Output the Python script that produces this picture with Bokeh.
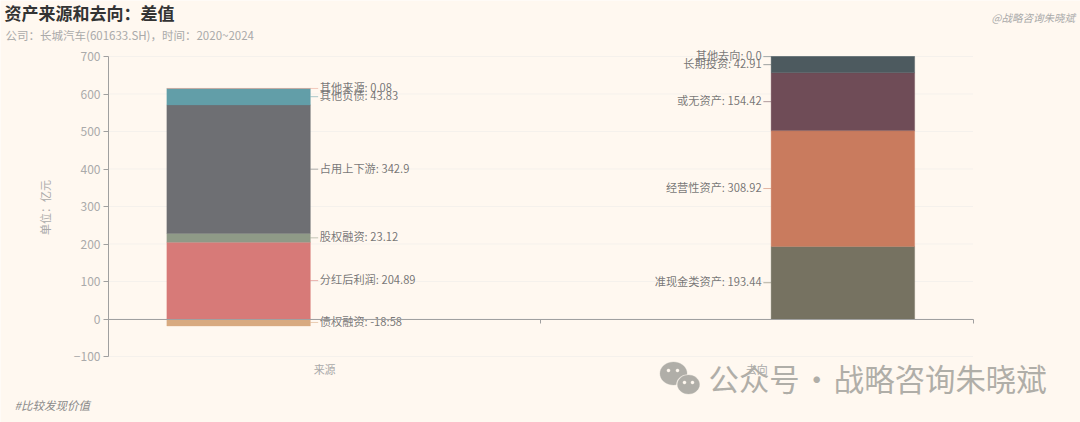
from bokeh.plotting import figure
from bokeh.models import (ColumnDataSource, Range1d, LinearAxis, FixedTicker, Label, PolyAnnotation)
from bokeh.core.properties import value
from bokeh.embed import file_html
from bokeh.resources import INLINE
import math

FONT = "Noto Sans CJK SC"
categories = ["来源", "去向"]

source_names = ["债权融资", "分红后利润", "股权融资", "占用上下游", "其他负债", "其他来源"]
source_values = [-18.58, 204.89, 23.12, 342.9, 43.83, 0.08]
source_labels = ["-18:58", "204.89", "23.12", "342.9", "43.83", "0.08"]
source_colors = ["#d8aa80", "#d77a78", "#8f9a87", "#6e6f73", "#629ea8", "#e8a090"]

use_names = ["准现金类资产", "经营性资产", "或无资产", "长期投资", "其他去向"]
use_values = [193.44, 308.92, 154.42, 42.91, 0.0]
use_labels = ["193.44", "308.92", "154.42", "42.91", "0.0"]
use_colors = ["#767261", "#c97b5e", "#6f4c57", "#4d5a5f", "#5a6a70"]

y_ticks = [-100, 0, 100, 200, 300, 400, 500, 600, 700]

W, H = 1080, 422
AX_L, AX_R, AX_T, AX_B = 108.0, 972.5, 56.0, 356.0
XK = 2 / (AX_R - AX_L)
YK = 800 / (AX_B - AX_T)


def stack(vals):
    bottoms, tops, pos = [], [], 0.0
    for v in vals:
        if v < 0:
            bottoms.append(v); tops.append(0.0)
        else:
            bottoms.append(pos); tops.append(pos + v); pos += v
    return bottoms, tops


p = figure(width=W, height=H, output_backend="svg", toolbar_location=None,
           x_range=Range1d(-AX_L * XK, 2 + (W - AX_R) * XK),
           y_range=Range1d(-100 - (H - AX_B) * YK, 700 + AX_T * YK),
           x_axis_location=None, y_axis_location=None,
           background_fill_color="#fff8f0", border_fill_color="#fff8f0",
           min_border=0, margin=(0, 0, 0, 0), outline_line_color=None)
p.grid.visible = False

# grid lines, limited to the plotting area
p.segment(x0=[0] * len(y_ticks), x1=[2] * len(y_ticks), y0=y_ticks, y1=y_ticks,
          line_color="#f5f1ec", line_width=1)

# axes
y_axis = LinearAxis(fixed_location=0, bounds=(-100, 700), ticker=FixedTicker(ticks=y_ticks),
                    axis_line_color="#a0a0a0", major_tick_line_color="#a0a0a0",
                    major_tick_in=0, major_tick_out=5, minor_tick_line_color=None,
                    major_label_text_color="#aaaaaa", major_label_text_font=FONT,
                    major_label_text_font_size="12px", major_label_standoff=3)
p.add_layout(y_axis, "left")

positions = [i + 0.5 for i in range(len(categories))]
cat_axis = LinearAxis(fixed_location=-100, ticker=FixedTicker(ticks=positions),
                      major_label_overrides=dict(zip(positions, categories)),
                      axis_line_color=None, major_tick_line_color=None, minor_tick_line_color=None,
                      major_label_text_color="#aaaaaa", major_label_text_font=FONT,
                      major_label_text_font_size="11px", major_label_standoff=-2)
p.add_layout(cat_axis, "below")

zero_ticks = [0, 1, 2]
zero_axis = LinearAxis(fixed_location=0, bounds=(0, 2), ticker=FixedTicker(ticks=zero_ticks),
                       major_label_overrides={t: "" for t in zero_ticks},
                       axis_line_color="#a0a0a0", axis_line_width=1.2,
                       major_tick_line_color="#a0a0a0", major_tick_in=0, major_tick_out=4,
                       minor_tick_line_color=None)
p.add_layout(zero_axis, "below")

# bars: each bar sits off the centre of its category, towards the outside
BAR = 0.332
OFFSET = 0.199
for centre, names, vals, labels, cols, side in [
    (positions[0] - OFFSET, source_names, source_values, source_labels, source_colors, 1),
    (positions[1] + OFFSET, use_names, use_values, use_labels, use_colors, -1),
]:
    bottoms, tops = stack(vals)
    src = ColumnDataSource(dict(x=[centre] * len(vals), bottom=bottoms, top=tops, color=cols))
    p.vbar(x="x", bottom="bottom", top="top", width=BAR, source=src,
           fill_color="color", line_color="color", line_alpha=0.35, line_width=1)

    edge = centre + side * BAR / 2
    mids = [(a + b) / 2 for a, b in zip(bottoms, tops)]
    p.segment(x0=[edge] * len(vals), x1=[edge + side * 0.018] * len(vals), y0=mids, y1=mids,
              line_color=cols, line_alpha=0.55, line_width=1)
    p.text(x=[edge + side * 0.022] * len(vals), y=mids,
           text=[f"{n}: {l}" for n, l in zip(names, labels)],
           text_font=value(FONT), text_font_size="11.2px", y_offset=-1.5,
           text_color="#6f6f6f", text_alpha=0.95, text_baseline="middle",
           text_align="left" if side > 0 else "right")


def label(x, y, text, size, color, style="normal", angle=0.0, align="left"):
    p.add_layout(Label(x=x, y=H - y, x_units="screen", y_units="screen", text=text,
                       text_font=FONT, text_font_size=size, text_color=color, angle=angle,
                       text_font_style=style, text_baseline="middle", text_align=align))


label(44, 207, "单位：亿元", "11px", "#aaaaaa", angle=math.pi / 2, align="center")
label(4, 12, "资产来源和去向：差值", "17px", "#333333", "bold")
label(5, 34, "公司：长城汽车(601633.SH)，时间：2020~2024", "11.5px", "#aaaaaa")
label(991, 17, "@战略咨询朱晓斌", "10.5px", "#aaaaaa", "italic")
label(14, 404.5, "#比较发现价值", "11.5px", "#8a8a8a", "italic")
label(708, 377.5, "公众号\u200a·\u200a战略咨询朱晓斌", "30.4px", "#b0aea8")


def bubble(cx, cy, rx, ry, color):
    pts = [(cx + rx * math.cos(i * math.pi / 18), cy + ry * math.sin(i * math.pi / 18)) for i in range(36)]
    p.add_layout(PolyAnnotation(xs=[a for a, _ in pts], ys=[H - b for _, b in pts],
                                xs_units="screen", ys_units="screen",
                                fill_color=color, fill_alpha=1, line_color=color))


bubble(673, 373, 13.5, 11.5, "#b0aea8")
bubble(688, 384, 12, 10, "#fff8f0")
bubble(688, 384, 11, 9.5, "#b0aea8")
for cx, cy, col in [(668, 370, "#fff8f0"), (677, 370, "#fff8f0"), (684, 382, "#fff8f0"), (692, 382, "#fff8f0")]:
    bubble(cx, cy, 1.6, 1.6, col)

open("out.html", "w").write(file_html(p, INLINE))
